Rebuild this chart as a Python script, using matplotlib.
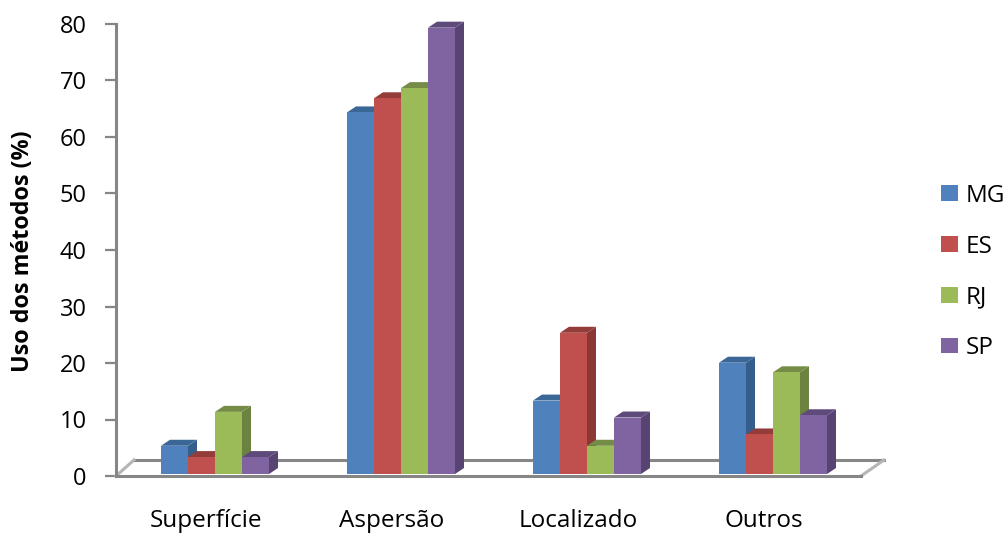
import matplotlib
matplotlib.use('Agg')
import matplotlib.pyplot as plt
import numpy as np
from matplotlib.patches import Polygon, Patch

categories = ['Superfície', 'Aspersão', 'Localizado', 'Outros']
states = ['MG', 'ES', 'RJ', 'SP']
mg = [5, 64, 13, 19.7]
es = [3, 66.5, 25, 7]
rj = [11, 68.3, 5, 18]
sp = [3, 79, 10, 10.4]
y_ticks = [0, 10, 20, 30, 40, 50, 60, 70, 80]

front = ['#4F81BD', '#C0504D', '#9BBB59', '#8064A2']
side = ['#365E8C', '#8A3735', '#6B8240', '#574473']
top = ['#3B6797', '#943C3A', '#748C45', '#5F4B7B']
axis_color = '#868686'

plt.rcParams['font.family'] = ['Open Sans', 'DejaVu Sans']

W, H = 1004, 533
fig = plt.figure(figsize=(W / 100, H / 100), dpi=100)
# axes box runs from the front-left floor corner to the front-right one
ax = fig.add_axes([116 / W, 1 - 476 / H, (861 - 116) / W, (476 - 24) / H])

px_x = 186.0            # pixels per category
px_y = 452 / 80.0       # pixels per percent
ax.set_xlim(-99 / px_x, 646 / px_x)
ax.set_ylim(0, 80)

bar_w = 27 / px_x
dx = 9 / px_x           # depth of the 3d bars
dy = 6 / px_y
base = 0.35             # bars stand slightly behind the front edge

# floor
left = -99 / px_x
ax.plot([left, left + 18 / px_x], [0, 16 / px_y], color='#B5B5B5', lw=2.2, clip_on=False)
ax.plot([left + 18 / px_x, left + 768 / px_x], [16 / px_y, 16 / px_y], color=axis_color, lw=2.2, clip_on=False, zorder=1)
ax.plot([left + 745 / px_x, left + 768 / px_x], [0, 16 / px_y], color='#B5B5B5', lw=2.2, clip_on=False)

series = [mg, es, rj, sp]
z = 3
for c in range(len(categories)):
    for s in range(len(states)):
        v = series[s][c] + base
        x0 = c + (s - 2) * bar_w
        x1 = x0 + bar_w
        ax.add_patch(Polygon([[x1, base], [x1 + dx, base + dy], [x1 + dx, v + dy], [x1, v]],
                             fc=side[s], ec='none', zorder=z, clip_on=False))
        ax.add_patch(Polygon([[x0, v], [x0 + dx, v + dy], [x1 + dx, v + dy], [x1, v]],
                             fc=top[s], ec='none', zorder=z, clip_on=False))
        ax.add_patch(Polygon([[x0, base], [x1, base], [x1, v], [x0, v]],
                             fc=front[s], ec='none', zorder=z + 0.5, clip_on=False))
        z += 1

for name in ['top', 'right']:
    ax.spines[name].set_visible(False)
for name in ['left', 'bottom']:
    ax.spines[name].set_color(axis_color)
    ax.spines[name].set_linewidth(2.2)

ax.set_yticks(y_ticks)
ax.tick_params(axis='y', length=8, width=1.6, color=axis_color, labelsize=17, pad=13)
# category labels sit a little left of the bar groups
ax.set_xticks(np.arange(len(categories)) - 9 / px_x)
ax.set_xticklabels(categories)
ax.tick_params(axis='x', length=0, labelsize=17.5, pad=24)

fig.text(23 / W, 1 - 251 / H, 'Uso dos métodos (%)', rotation=90, fontsize=16.8,
         fontweight='bold', ha='center', va='center')

handles = [Patch(fc=front[i], ec='none', label=states[i]) for i in range(len(states))]
ax.legend(handles=handles, loc='center left', bbox_to_anchor=(941 / W, 1 - 272 / H),
          bbox_transform=fig.transFigure, frameon=False, fontsize=17.5,
          handlelength=0.7, handleheight=0.62, handletextpad=0.3, labelspacing=1.1,
          borderpad=0, borderaxespad=0)

fig.savefig('out.png', dpi=100)
